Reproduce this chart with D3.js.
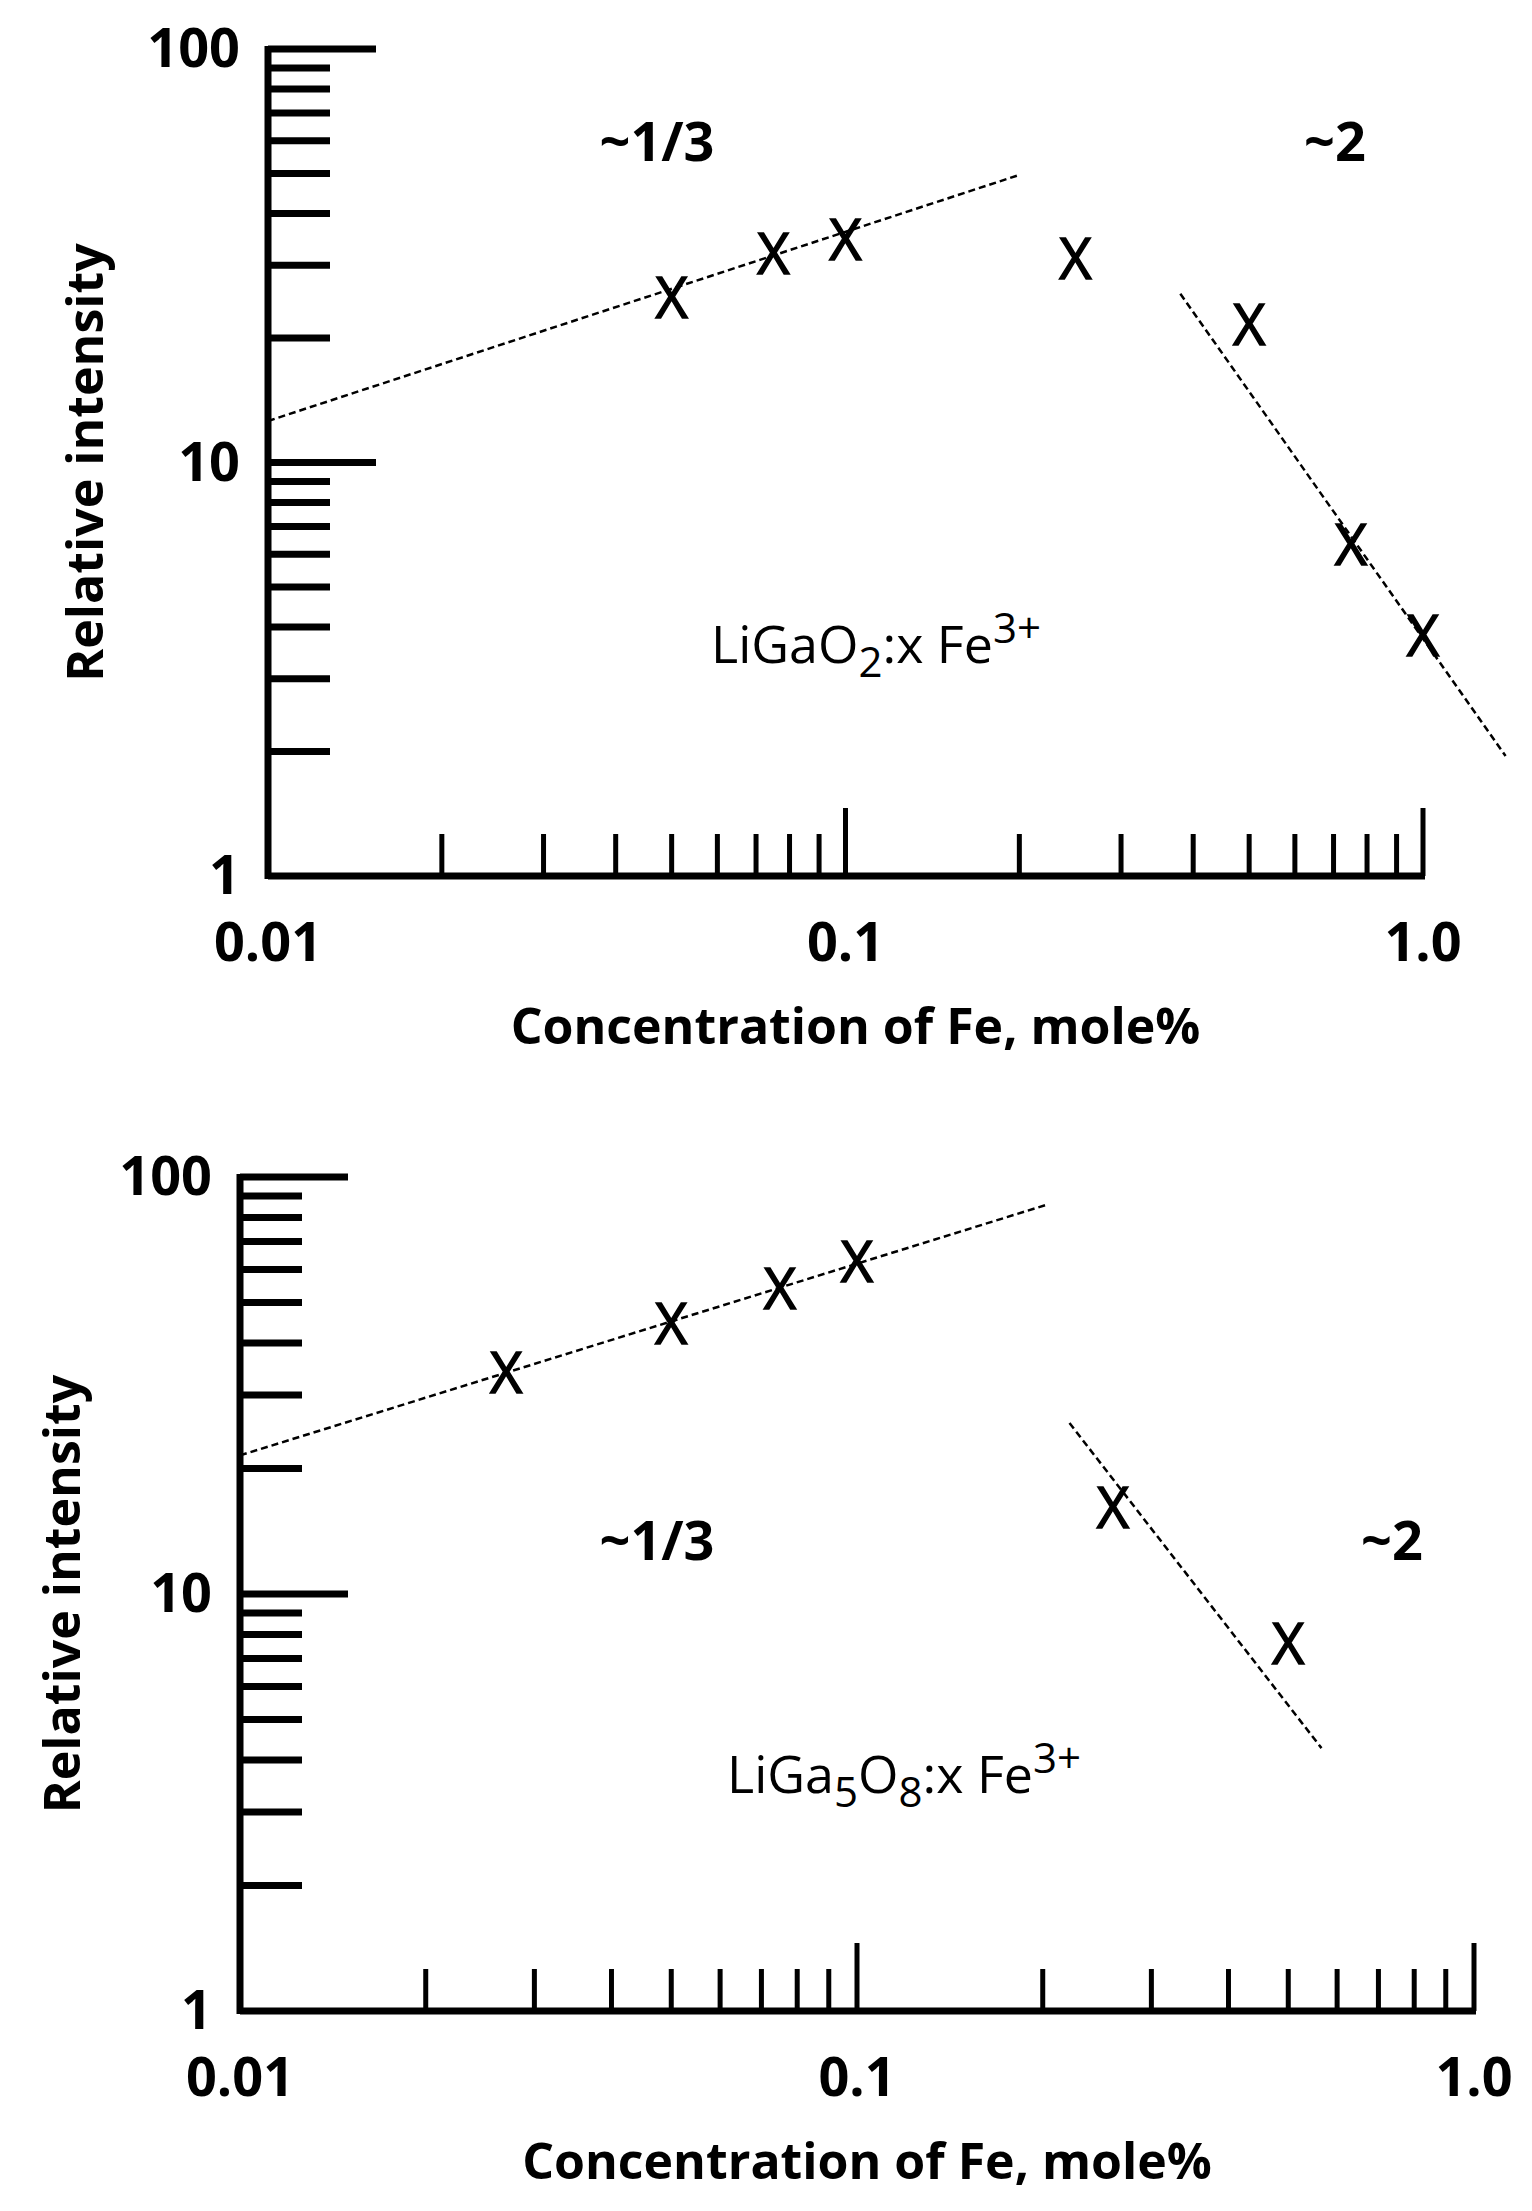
<!DOCTYPE html>
<html><head><meta charset="utf-8">
<script src="https://cdn.jsdelivr.net/npm/d3@7"></script>
<style>
body{margin:0;background:#fff;}
text{font-family:"Liberation Sans Narrow","Open Sans",sans-serif;fill:#000;}
</style></head>
<body><svg id="chart" width="1532" height="2211"></svg>
<script>
// top panel: LiGaO2
const topConc = [0.05, 0.075, 0.1, 0.25, 0.5, 0.75, 1.0];
const topInt = [25, 32, 34.5, 31, 21.5, 6.3, 3.8];
const topFitLow = [[0.01, 12.6], [0.2, 49.6]];
const topFitHigh = [[0.38, 25.6], [1.39, 1.95]];
// bottom panel: LiGa5O8
const botConc = [0.027, 0.05, 0.075, 0.1, 0.26, 0.5];
const botInt = [33.8, 44.4, 54, 62.6, 16.1, 7.6];
const botFitLow = [[0.01, 21.5], [0.202, 85.6]];
const botFitHigh = [[0.221, 25.7], [0.566, 4.27]];
const xTickLabels = ["0.01", "0.1", "1.0"];
const yTickLabels = ["1", "10", "100"];

const svg = d3.select("#chart");

const panels = [
  {conc: topConc, inte: topInt, fits: [topFitLow, topFitHigh], x0: 268, x1: 1423, y0: 876, y1: 49,
   slopes: [[657, 141, "~1/3"], [1335, 141, "~2"]], label: [876, 643, "LiGa", "O", "2", ":x Fe", "3+", null]},
  {conc: botConc, inte: botInt, fits: [botFitLow, botFitHigh], x0: 240, x1: 1474, y0: 2011, y1: 1177,
   slopes: [[657, 1540, "~1/3"], [1392, 1540, "~2"]], label: [904, 1773, "LiGa", "5", "O", "8", ":x Fe", "3+"]}
];

panels.forEach((p, pi) => {
  const x = d3.scaleLog().domain([0.01, 1]).range([p.x0, p.x1]);
  const y = d3.scaleLog().domain([1, 100]).range([p.y0, p.y1]);
  const g = svg.append("g");

  //minor + major ticks
  const xt = [], yt = [];
  [0.01, 0.1].forEach(d => { for (let k = 2; k <= 9; k++) xt.push(d * k); });
  [1, 10].forEach(d => { for (let k = 2; k <= 9; k++) yt.push(d * k); });
  xt.forEach(v => g.append("line").attr("x1", x(v)).attr("x2", x(v))
    .attr("y1", p.y0).attr("y2", p.y0 - 42).attr("stroke", "#000").attr("stroke-width", 5));
  [0.1, 1].forEach(v => g.append("line").attr("x1", x(v)).attr("x2", x(v))
    .attr("y1", p.y0).attr("y2", p.y0 - 68).attr("stroke", "#000").attr("stroke-width", 5));
  yt.forEach(v => g.append("line").attr("x1", p.x0).attr("x2", p.x0 + 62)
    .attr("y1", y(v)).attr("y2", y(v)).attr("stroke", "#000").attr("stroke-width", 7));
  [10, 100].forEach(v => g.append("line").attr("x1", p.x0).attr("x2", p.x0 + 108)
    .attr("y1", y(v)).attr("y2", y(v)).attr("stroke", "#000").attr("stroke-width", 7));

  //axes lines
  g.append("line").attr("x1", p.x0).attr("x2", x(1) + 2).attr("y1", p.y0).attr("y2", p.y0)
    .attr("stroke", "#000").attr("stroke-width", 7);
  g.append("line").attr("x1", p.x0).attr("x2", p.x0).attr("y1", p.y0 + 3).attr("y2", y(100) - 3)
    .attr("stroke", "#000").attr("stroke-width", 7);

  //tick labels
  [0.01, 0.1, 1].forEach((v, i) => g.append("text").attr("x", x(v)).attr("y", p.y0 + 85)
    .attr("text-anchor", "middle").attr("font-size", 54).attr("font-weight", "bold").text(xTickLabels[i]));
  [1, 10, 100].forEach((v, i) => g.append("text").attr("x", p.x0 - 28).attr("y", y(v) + 18)
    .attr("text-anchor", "end").attr("font-size", 54).attr("font-weight", "bold").text(yTickLabels[i]));

  //titles
  g.append("text").attr("x", (p.x0 + x(1)) / 2 + 10).attr("y", p.y0 + 168).attr("text-anchor", "middle")
    .attr("font-size", 50).attr("font-weight", "bold").text("Concentration of Fe, mole%");
  g.append("text").attr("transform", `translate(${pi === 0 ? 103 : 80},${(p.y0 + p.y1) / 2}) rotate(-90)`)
    .attr("text-anchor", "middle").attr("font-size", 50).attr("font-weight", "bold").text("Relative intensity");

  //fit lines
  const line = d3.line().x(d => x(d[0])).y(d => y(d[1]));
  p.fits.forEach(f => g.append("path").datum(f).attr("d", line).attr("fill", "none")
    .attr("stroke", "#000").attr("stroke-width", 2.5).attr("stroke-dasharray", "7,4"));

  //points as X glyphs
  p.conc.forEach((c, i) => g.append("text").attr("x", x(c)).attr("y", y(p.inte[i]) + 20)
    .attr("text-anchor", "middle").attr("font-size", 56).attr("stroke", "#000").attr("stroke-width", 1.5).text("X"));

  p.slopes.forEach(s => g.append("text").attr("x", s[0]).attr("y", s[1] + 20).attr("text-anchor", "middle")
    .attr("font-size", 54).attr("font-weight", "bold").text(s[2]));

  const lab = g.append("text").attr("x", p.label[0]).attr("y", p.label[1] + 20)
    .attr("text-anchor", "middle").attr("font-size", 52);
  const L = p.label;
  if (pi === 0) {
    lab.append("tspan").text(L[2] + L[3]);
    lab.append("tspan").attr("dy", 14).attr("font-size", 42).text(L[4]);
    lab.append("tspan").attr("dy", -14).text(L[5]);
    lab.append("tspan").attr("dy", -20).attr("font-size", 42).text(L[6]);
  } else {
    lab.append("tspan").text(L[2]);
    lab.append("tspan").attr("dy", 14).attr("font-size", 42).text(L[3]);
    lab.append("tspan").attr("dy", -14).text(L[4]);
    lab.append("tspan").attr("dy", 14).attr("font-size", 42).text(L[5]);
    lab.append("tspan").attr("dy", -14).text(L[6]);
    lab.append("tspan").attr("dy", -20).attr("font-size", 42).text(L[7]);
  }
});
</script>
</body></html>
